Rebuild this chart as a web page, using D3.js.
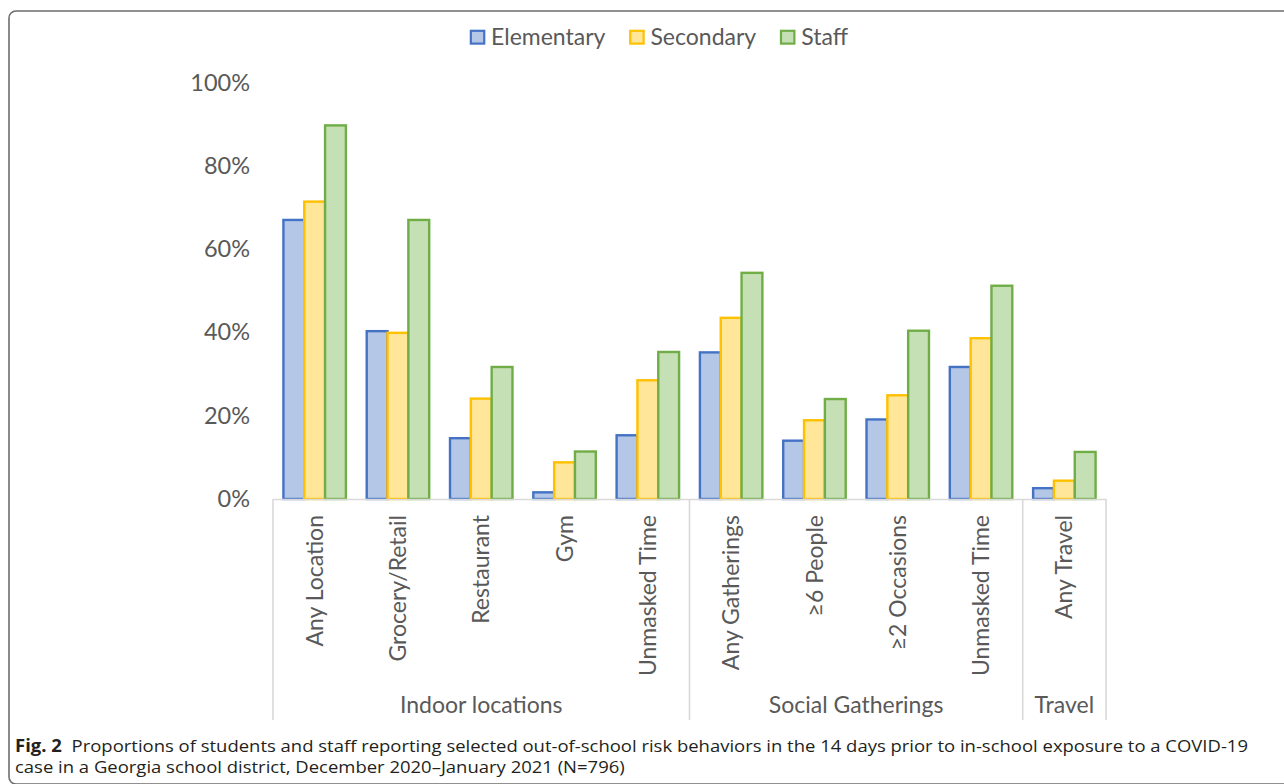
<!DOCTYPE html>
<html>
<head>
<meta charset="utf-8">
<script src="https://cdn.jsdelivr.net/npm/d3@7/dist/d3.min.js"></script>
<style>
  html, body { margin: 0; padding: 0; background: #fff; }
  svg { display: block; }
</style>
</head>
<body>
<svg id="chart" width="1284" height="784"></svg>
<script>
// Out-of-school risk behaviours (% reporting), by group
const categories = ["Any Location", "Grocery/Retail", "Restaurant", "Gym", "Unmasked Time",
                    "Any Gatherings", "\u22656 People", "\u22652 Occasions", "Unmasked Time",
                    "Any Travel"];
const groupNames = ["Indoor locations", "Social Gatherings", "Travel"];
const groupSizes = [5, 4, 1];
const seriesNames = ["Elementary", "Secondary", "Staff"];
const elementary = [67.0, 40.3, 14.6, 1.6, 15.3, 35.2, 14.0, 19.1, 31.7, 2.6];
const secondary  = [71.4, 39.9, 24.1, 8.8, 28.5, 43.5, 18.9, 24.9, 38.6, 4.4];
const staff      = [89.7, 67.0, 31.7, 11.4, 35.3, 54.3, 24.0, 40.4, 51.2, 11.3];
const yTicks = [0, 20, 40, 60, 80, 100];
const captionBold = "Fig. 2";
const captionLine1 = "Proportions of students and staff reporting selected out-of-school risk behaviors in the 14 days prior to in-school exposure to a COVID-19";
const captionLine2 = "case in a Georgia school district, December 2020\u2013January 2021 (N=796)";

const seriesValues = [elementary, secondary, staff];
const strokeColors = ["#4472C4", "#FFC000", "#70AD47"];
const fillColors   = ["#B4C7E7", "#FFE699", "#C5E0B4"];

const FONT = "Lato, 'Open Sans', sans-serif";
const TEXT = "#595959";
const AXIS = "#D9D9D9";

const svg = d3.select("#chart");

// Figure frame with rounded upper-left corner
svg.append("path")
  .attr("d", "M1286,11 H16 A7,7 0 0 0 9,18 V777 A7,7 0 0 0 16,784 H1286")
  .attr("fill", "none")
  .attr("stroke", "#6e6e6e")
  .attr("stroke-width", 1.6);

// Scales
const x0 = d3.scaleBand()
  .domain(d3.range(categories.length))
  .range([273, 1106])
  .paddingInner(0).paddingOuter(0);

const bw = x0.bandwidth();
const x1 = d3.scaleBand()
  .domain(d3.range(seriesNames.length))
  .range([bw * 0.125, bw * 0.875])
  .padding(0);

const y = d3.scaleLinear().domain([0, 100]).range([499, 82.5]);

const stroke = d3.scaleOrdinal().domain(seriesNames).range(strokeColors);
const fill = d3.scaleOrdinal().domain(seriesNames).range(fillColors);

// Y axis labels (no axis line, no ticks)
const yAxis = svg.append("g")
  .attr("transform", "translate(257,0)")
  .call(d3.axisLeft(y).tickValues(yTicks).tickFormat(d => d + "%").tickSize(0).tickPadding(7));
yAxis.select(".domain").remove();
yAxis.selectAll("text")
  .attr("fill", TEXT)
  .style("font-family", FONT)
  .style("font-size", "23.5px");

// Bars
const rows = categories.map((c, i) => ({ i, values: seriesValues.map(s => s[i]) }));
const groupsSel = svg.append("g").selectAll("g")
  .data(rows)
  .join("g")
  .attr("transform", d => `translate(${x0(d.i)},0)`);

groupsSel.selectAll("rect")
  .data(d => d.values.map((v, k) => ({ k, v })))
  .join("rect")
  .attr("x", d => x1(d.k))
  .attr("width", x1.bandwidth())
  .attr("y", d => y(d.v))
  .attr("height", d => y(0) - y(d.v))
  .attr("fill", d => fill(seriesNames[d.k]))
  .attr("stroke", d => stroke(seriesNames[d.k]))
  .attr("stroke-width", 2.4);

// Category axis with rotated labels
const xAxis = svg.append("g")
  .attr("transform", `translate(0,${y(0)})`)
  .call(d3.axisBottom(x0).tickFormat(i => categories[i]).tickSize(0).tickSizeOuter(0));
xAxis.select(".domain").attr("stroke", AXIS).attr("stroke-width", 1.6);
xAxis.selectAll("text")
  .attr("transform", "rotate(-90)")
  .attr("text-anchor", "end")
  .attr("x", -16)
  .attr("y", 0)
  .attr("dy", "0.35em")
  .attr("fill", TEXT)
  .style("font-family", FONT)
  .style("font-size", "23px");

// Group separators and group labels
const starts = Array.from(d3.cumsum([0].concat(groupSizes.slice(0, -1))));
const boundaries = starts.map(s => x0(s)).concat([x0.range()[1]]);
svg.append("g").selectAll("line")
  .data(boundaries)
  .join("line")
  .attr("x1", d => d).attr("x2", d => d)
  .attr("y1", y(0)).attr("y2", 720)
  .attr("stroke", AXIS)
  .attr("stroke-width", 1.6);

svg.append("g").selectAll("text")
  .data(groupNames)
  .join("text")
  .attr("x", (d, g) => (boundaries[g] + boundaries[g + 1]) / 2)
  .attr("y", 713)
  .attr("text-anchor", "middle")
  .attr("fill", TEXT)
  .style("font-family", FONT)
  .style("font-size", "23px")
  .text(d => d);

// Legend, centred above the plot
const legend = svg.append("g");
const items = legend.selectAll("g")
  .data(seriesNames)
  .join("g");
items.append("rect")
  .attr("x", 0.8).attr("y", 30.8)
  .attr("width", 13.4).attr("height", 12.8)
  .attr("fill", d => fill(d))
  .attr("stroke", d => stroke(d))
  .attr("stroke-width", 2.2);
items.append("text")
  .attr("x", 21)
  .attr("y", 37)
  .attr("dy", "0.35em")
  .attr("fill", TEXT)
  .style("font-family", FONT)
  .style("font-size", "23px")
  .text(d => d);

let offsets = [], cursor = 0;
items.each(function () {
  offsets.push(cursor);
  const w = 21 + d3.select(this).select("text").node().getComputedTextLength();
  cursor += w + 24;
});
const totalW = cursor - 24;
const legendLeft = 659 - totalW / 2;
items.attr("transform", (d, i) => `translate(${legendLeft + offsets[i]},0)`);

// Caption: bold figure number, then the description on two lines,
// narrowed horizontally so the first line spans the figure width
const cap = svg.append("g")
  .style("font-family", "'Open Sans', 'Noto Sans', sans-serif")
  .style("font-size", "17px")
  .attr("fill", "#231f20");
const capX = 15, capRight = 1248;
const tBold = cap.append("text").attr("x", capX).attr("y", 752)
  .style("font-weight", "bold").text(captionBold);
const t1 = cap.append("text").attr("y", 752).text(captionLine1);
const t2 = cap.append("text").attr("x", capX).attr("y", 773).text(captionLine2);

const wBold = tBold.node().getComputedTextLength();
const w1 = t1.node().getComputedTextLength();
const w2 = t2.node().getComputedTextLength();
const gap = 9;
const k = (capRight - capX) / (wBold + gap + w1);
tBold.attr("textLength", wBold * k).attr("lengthAdjust", "spacingAndGlyphs");
t1.attr("x", capX + (wBold + gap) * k)
  .attr("textLength", w1 * k).attr("lengthAdjust", "spacingAndGlyphs");
t2.attr("textLength", w2 * k).attr("lengthAdjust", "spacingAndGlyphs");
</script>
</body>
</html>
